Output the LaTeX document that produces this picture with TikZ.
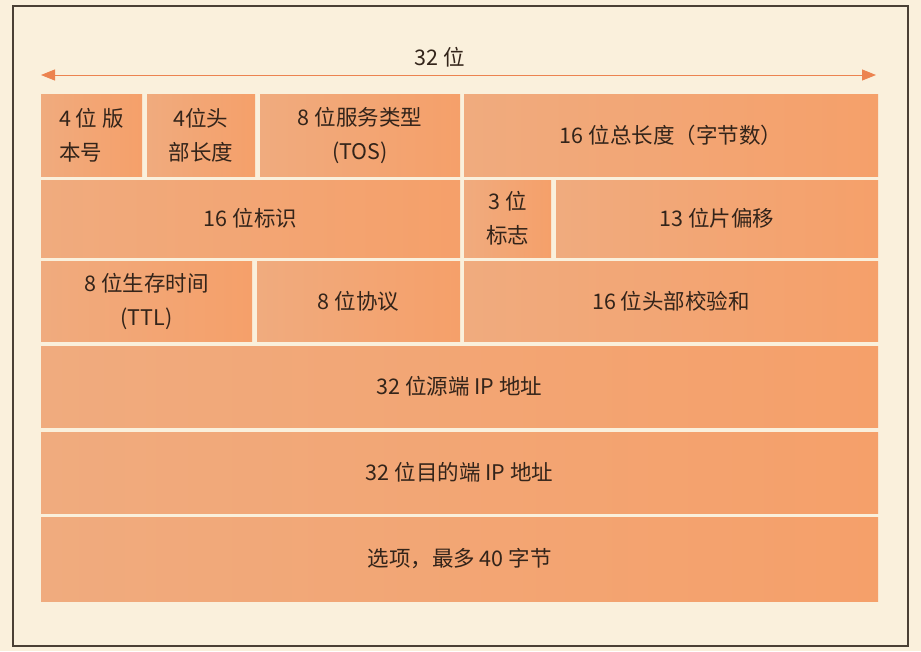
\documentclass[tikz,border=0pt]{standalone}
\usepackage{fontspec}
\setmainfont{Noto Sans CJK SC}
\usetikzlibrary{arrows.meta}

\definecolor{paper}{HTML}{FAF0DC}
\definecolor{framecol}{HTML}{4A4035}
\definecolor{cellL}{HTML}{F0AB7E}
\definecolor{cellR}{HTML}{F5A06A}
\definecolor{ink}{HTML}{33241A}
\definecolor{arrowcol}{HTML}{EC8350}

\tikzset{
  cell/.style={left color=cellL, right color=cellR, text=ink, outer sep=0pt,
    inner sep=0pt, align=center, font=\fontsize{21.5}{34}\selectfont}
}

\begin{document}
\begin{tikzpicture}[x=1pt,y=-1pt]
    \useasboundingbox (0,0) rectangle (921,651);
    \fill[paper] (0,0) rectangle (921,651);
    % frame
    \draw[framecol, line width=2pt] (13,6) rectangle (908,646);

    % width arrow
    \coordinate (wl) at (41,75);
    \coordinate (wr) at (876,75);
    \draw[arrowcol, line width=0.9pt, {Triangle[length=14pt,width=11pt]}-{Triangle[length=14pt,width=11pt]}] (wl) -- (wr);
    \node[text=ink, font=\fontsize{21.5}{26}\selectfont] (width) at (440,57) {32 位};

    % header fields: name/cx/cy/w/h/text
    \node[cell, align=left, minimum width=101pt, minimum height=82pt] (ver) at (91.5,135) {4 位 版\\本号};
    \foreach \n/\cx/\cy/\w/\h/\t in {
        hlen/201/135/108/82/{4位头\\部长度},
        tos/360/135/200/82/{8 位服务类型\\(TOS)},
        totlen/671/135/414/82/{16 位总长度（字节数）},
        ident/250.5/218.5/419/77/{16 位标识},
        flags/507.5/218.5/87/77/{3 位\\标志},
        frag/717/218.5/322/77/{13 位片偏移},
        ttl/146.5/301/211/80/{8 位生存时间\\(TTL)},
        proto/358.5/301/203/80/{8 位协议},
        chksum/671/301/414/80/{16 位头部校验和},
        src/459.5/386.5/837/81/{32 位源端 IP 地址},
        dst/459.5/472.5/837/81/{32 位目的端 IP 地址},
        opt/459.5/559/837/84/{选项，最多 40 字节}} {
        \node[cell, minimum width=\w pt, minimum height=\h pt] (\n) at (\cx,\cy) {\t};
    }
\end{tikzpicture}
\end{document}
